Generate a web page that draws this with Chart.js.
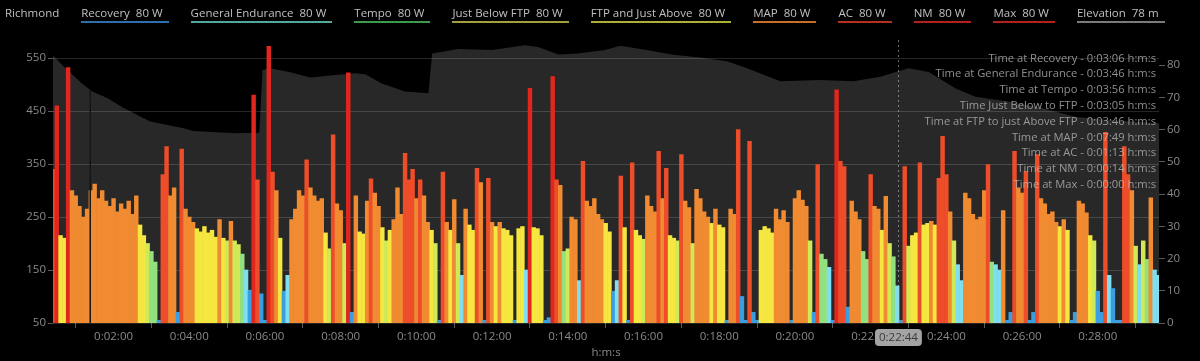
<!DOCTYPE html>
<html>
<head>
<meta charset="utf-8">
<script src="https://cdn.jsdelivr.net/npm/chart.js@4.4.1/dist/chart.umd.min.js"></script>
<style>
  html, body { margin: 0; padding: 0; background: #000; }
  #wrap { position: relative; width: 1200px; height: 361px; overflow: hidden; }
  #legend {
    position: absolute; top: 6px; left: 5px; display: flex; gap: 22px;
    font-family: "Open Sans", sans-serif; font-size: 11.5px; color: #c0c0c0;
    white-space: pre; z-index: 2;
  }
  #legend span { line-height: 14px; padding: 0 6px 1px 0; border-bottom: 2px solid transparent; }
  #legend span:first-child { padding-right: 0; }
</style>
</head>
<body>
<div id="wrap">
  <div id="legend"></div>
  <canvas id="grafico"></canvas>
</div>
<script>
// power samples, one every 6 s starting at 0:00:24 (W)
const startSec = 24;
const stepSec = 6;
const power = [
  340, 460, 215, 210, 532, 300, 290, 270, 250, 265,
  300, 312, 285, 300, 280, 270, 285, 260, 275, 265,
  280, 255, 290, 235, 215, 200, 185, 165, 55, 330,
  383, 290, 305, 70, 378, 265, 250, 240, 228, 222,
  232, 220, 225, 212, 245, 210, 205, 242, 205, 198,
  180, 150, 112, 480, 320, 105, 55, 572, 335, 300,
  210, 110, 140, 245, 265, 300, 290, 358, 305, 290,
  280, 285, 220, 190, 405, 275, 262, 200, 522, 70,
  290, 222, 218, 280, 322, 295, 270, 230, 205, 225,
  245, 305, 255, 370, 320, 340, 285, 320, 290, 240,
  225, 200, 55, 335, 240, 225, 283, 200, 140, 265,
  235, 225, 342, 315, 55, 323, 240, 232, 240, 228,
  225, 215, 55, 228, 232, 150, 493, 230, 228, 215,
  55, 60, 515, 320, 310, 185, 190, 250, 245, 130,
  355, 280, 270, 285, 255, 245, 238, 222, 110, 130,
  327, 230, 55, 352, 225, 215, 208, 290, 270, 260,
  374, 285, 342, 215, 210, 205, 368, 280, 268, 200,
  302, 285, 260, 250, 238, 265, 235, 230, 55, 265,
  255, 415, 100, 55, 393, 70, 55, 225, 232, 228,
  220, 265, 245, 262, 240, 55, 285, 300, 282, 270,
  205, 70, 349, 180, 170, 155, 55, 490, 355, 345,
  80, 280, 260, 245, 185, 170, 330, 270, 265, 225,
  289, 200, 175, 120, 55, 345, 195, 215, 220, 352,
  235, 238, 242, 235, 323, 402, 330, 260, 205, 160,
  130, 295, 285, 255, 245, 250, 300, 349, 165, 160,
  150, 262, 55, 70, 374, 305, 295, 336, 55, 70,
  368, 285, 275, 255, 260, 240, 232, 245, 225, 55,
  70, 280, 275, 258, 215, 205, 110, 70, 410, 140,
  115, 55, 55, 383, 330, 300, 195, 160, 205, 170,
  286, 150, 140
];

// elevation profile (s, m)
const elevTimes = [24, 41, 70, 86, 110, 136, 178, 231, 246, 284,
  316, 351, 356, 368, 400, 432, 463, 503, 519, 545,
  582, 619, 625, 666, 720, 772, 793, 825, 856, 899,
  923, 965, 1007, 1050, 1092, 1124, 1177, 1240, 1293, 1335,
  1380, 1412, 1454, 1486, 1538, 1591, 1644, 1696, 1777];
const elevValues = [83, 79.6, 74.3, 71.8, 69.8, 66.7, 62.5, 60.4, 59.6, 59.2,
  58.9, 59, 78.5, 79, 77.8, 76.2, 76.8, 77.5, 77.2, 74.3,
  71.8, 71.3, 83.6, 85, 84.7, 86.2, 85.6, 83.3, 83.6, 84.7,
  86, 84.7, 83.2, 82.4, 81.2, 79, 75, 75.4, 75, 76.4,
  79, 77.9, 72.8, 70.2, 68.7, 66.7, 64, 63, 62];

// zones
const zoneNames = ['Recovery', 'General Endurance', 'Tempo', 'Just Below FTP', 'FTP and Just Above', 'MAP', 'AC', 'NM', 'Max'];
const zoneLimits = [120, 165, 190, 210, 240, 320, 450, 600];
const zoneColors = ['#3a9fe2', '#7fdfee', '#93e07f', '#cfe957', '#f5e640', '#f18b32', '#ee4d29', '#e0261d', '#a3130f'];
const zoneLines = ['#2d6fa8', '#52a79b', '#3c9a4c', '#a39f3e', '#adb133', '#c56f2b', '#b5301f', '#b32020', '#b32020'];
const zoneTimes = ['0:03:06', '0:03:46', '0:03:56', '0:03:05', '0:03:46', '0:07:49', '0:01:13', '0:00:14', '0:00:00'];
const summaryLabels = ['Time at Recovery', 'Time at General Endurance', 'Time at Tempo', 'Time Just Below to FTP',
  'Time at FTP to just Above FTP', 'Time at MAP', 'Time at AC', 'Time at NM', 'Time at Max'];

// axes
const xTicks = [120, 240, 360, 480, 600, 720, 840, 960, 1080, 1200, 1320, 1440, 1560, 1680];
const yTicks = [50, 150, 250, 350, 450, 550];
const elevTicks = [0, 10, 20, 30, 40, 50, 60, 70, 80];
const lapTimes = [83];
const lapElev = [72.3];
const cursorTime = 1364;

function hms(s) {
    const h = Math.floor(s / 3600);
    const m = Math.floor((s % 3600) / 60);
    const sec = Math.round(s % 60);
    return h + ':' + String(m).padStart(2, '0') + ':' + String(sec).padStart(2, '0');
}

function zoneColor(w) {
    let k = 0;
    while (k < zoneLimits.length && w >= zoneLimits[k]) k++;
    return zoneColors[k];
}

// legend
const legend = document.getElementById('legend');
const first = document.createElement('span');
first.textContent = 'Richmond';
legend.appendChild(first);
zoneNames.forEach((n, i) => {
    const s = document.createElement('span');
    s.textContent = n + '  80 W';
    s.style.borderBottomColor = zoneLines[i];
    legend.appendChild(s);
});
const el = document.createElement('span');
el.textContent = 'Elevation  78 m';
el.style.borderBottomColor = '#7a7a7a';
legend.appendChild(el);

const extras = {
    id: 'extras',
    afterDatasetsDraw(chart) {
        const ctx = chart.ctx;
        const x = chart.scales.x;
        const a = chart.chartArea;
        ctx.save();
        lapTimes.forEach((t, i) => {
            const px = x.getPixelForValue(t);
            ctx.strokeStyle = '#151515';
            ctx.lineWidth = 1.5;
            ctx.beginPath();
            ctx.moveTo(px, chart.scales.y1.getPixelForValue(lapElev[i]));
            ctx.lineTo(px, a.bottom);
            ctx.stroke();
        });
        const cx = Math.round(x.getPixelForValue(cursorTime)) + 0.5;
        ctx.strokeStyle = 'rgba(200,200,200,0.55)';
        ctx.lineWidth = 1;
        ctx.setLineDash([2, 3]);
        ctx.beginPath();
        ctx.moveTo(cx, a.top);
        ctx.lineTo(cx, a.bottom);
        ctx.stroke();
        ctx.restore();
    },
    afterDraw(chart) {
        const ctx = chart.ctx;
        const a = chart.chartArea;
        ctx.save();
        ctx.font = '11.2px "Open Sans"';
        ctx.fillStyle = 'rgba(190,190,190,0.75)';
        ctx.textAlign = 'right';
        ctx.textBaseline = 'middle';
        summaryLabels.forEach((l, i) => {
            ctx.fillText(l + ' - ' + zoneTimes[i] + ' h:m:s', a.right - 3, 58.5 + i * 15.8);
        });
        // cursor label on the time axis
        const cx = chart.scales.x.getPixelForValue(cursorTime);
        const txt = hms(cursorTime);
        ctx.font = '11.5px "Open Sans"';
        const w = ctx.measureText(txt).width + 8;
        ctx.fillStyle = '#a3a3a3';
        ctx.beginPath();
        ctx.roundRect(cx - w / 2, 329, w, 17, 4);
        ctx.fill();
        ctx.fillStyle = '#3a3a3a';
        ctx.textAlign = 'center';
        ctx.fillText(txt, cx, 337.5);
        ctx.restore();
    }
};

const barData = power.map((w, i) => ({ x: startSec + i * stepSec, y: w }));
const elevData = elevTimes.map((t, i) => ({ x: t, y: elevValues[i] }));

new Chart(document.getElementById('grafico'), {
    type: 'bar',
    data: {
        datasets: [
            {
                type: 'bar',
                label: 'Power',
                data: barData,
                backgroundColor: power.map(zoneColor),
                borderWidth: 0,
                barPercentage: 1,
                categoryPercentage: 1,
                grouped: false,
                yAxisID: 'y',
                order: 1
            },
            {
                type: 'line',
                label: 'Elevation',
                data: elevData,
                yAxisID: 'y1',
                fill: 'start',
                backgroundColor: 'rgba(255,255,255,0.155)',
                borderWidth: 0,
                pointRadius: 0,
                tension: 0,
                order: 2
            }
        ]
    },
    options: {
        responsive: true,
        maintainAspectRatio: false,
        animation: false,
        events: [],
        layout: { padding: { top: 40, left: 0, right: 0, bottom: 0 } },
        plugins: { legend: { display: false }, tooltip: { enabled: false } },
        scales: {
            x: {
                type: 'linear',
                min: 24,
                max: 1777,
                offset: false,
                afterBuildTicks: s => { s.ticks = xTicks.map(v => ({ value: v })); },
                afterFit: s => { s.height = 38; },
                ticks: {
                    color: '#8a8a8a',
                    font: { family: 'Open Sans', size: 11.5 },
                    maxRotation: 0,
                    padding: 2,
                    callback: v => hms(v)
                },
                grid: { drawOnChartArea: false, drawTicks: true, tickLength: 5, color: '#5a5a5a' },
                border: { display: false },
                title: {
                    display: true, text: 'h:m:s', color: '#8a8a8a',
                    font: { family: 'Open Sans', size: 11.5 }, padding: { top: 0, bottom: 1 }
                }
            },
            y: {
                position: 'left',
                min: 50,
                max: 584,
                z: 1,
                afterBuildTicks: s => { s.ticks = yTicks.map(v => ({ value: v })); },
                afterFit: s => { s.width = 53; },
                ticks: { color: '#8a8a8a', font: { family: 'Open Sans', size: 11.5 }, padding: 2 },
                grid: { color: 'rgba(255,255,255,0.15)', tickLength: 5, tickColor: '#5a5a5a' },
                border: { display: false }
            },
            y1: {
                position: 'right',
                min: 0,
                max: 87.8,
                afterBuildTicks: s => { s.ticks = elevTicks.map(v => ({ value: v })); },
                afterFit: s => { s.width = 41; },
                ticks: { color: '#8a8a8a', font: { family: 'Open Sans', size: 11.5 }, padding: 2 },
                grid: { drawOnChartArea: false, tickLength: 6, color: '#5a5a5a' },
                border: { display: false }
            }
        }
    },
    plugins: [extras]
});
</script>
</body>
</html>
